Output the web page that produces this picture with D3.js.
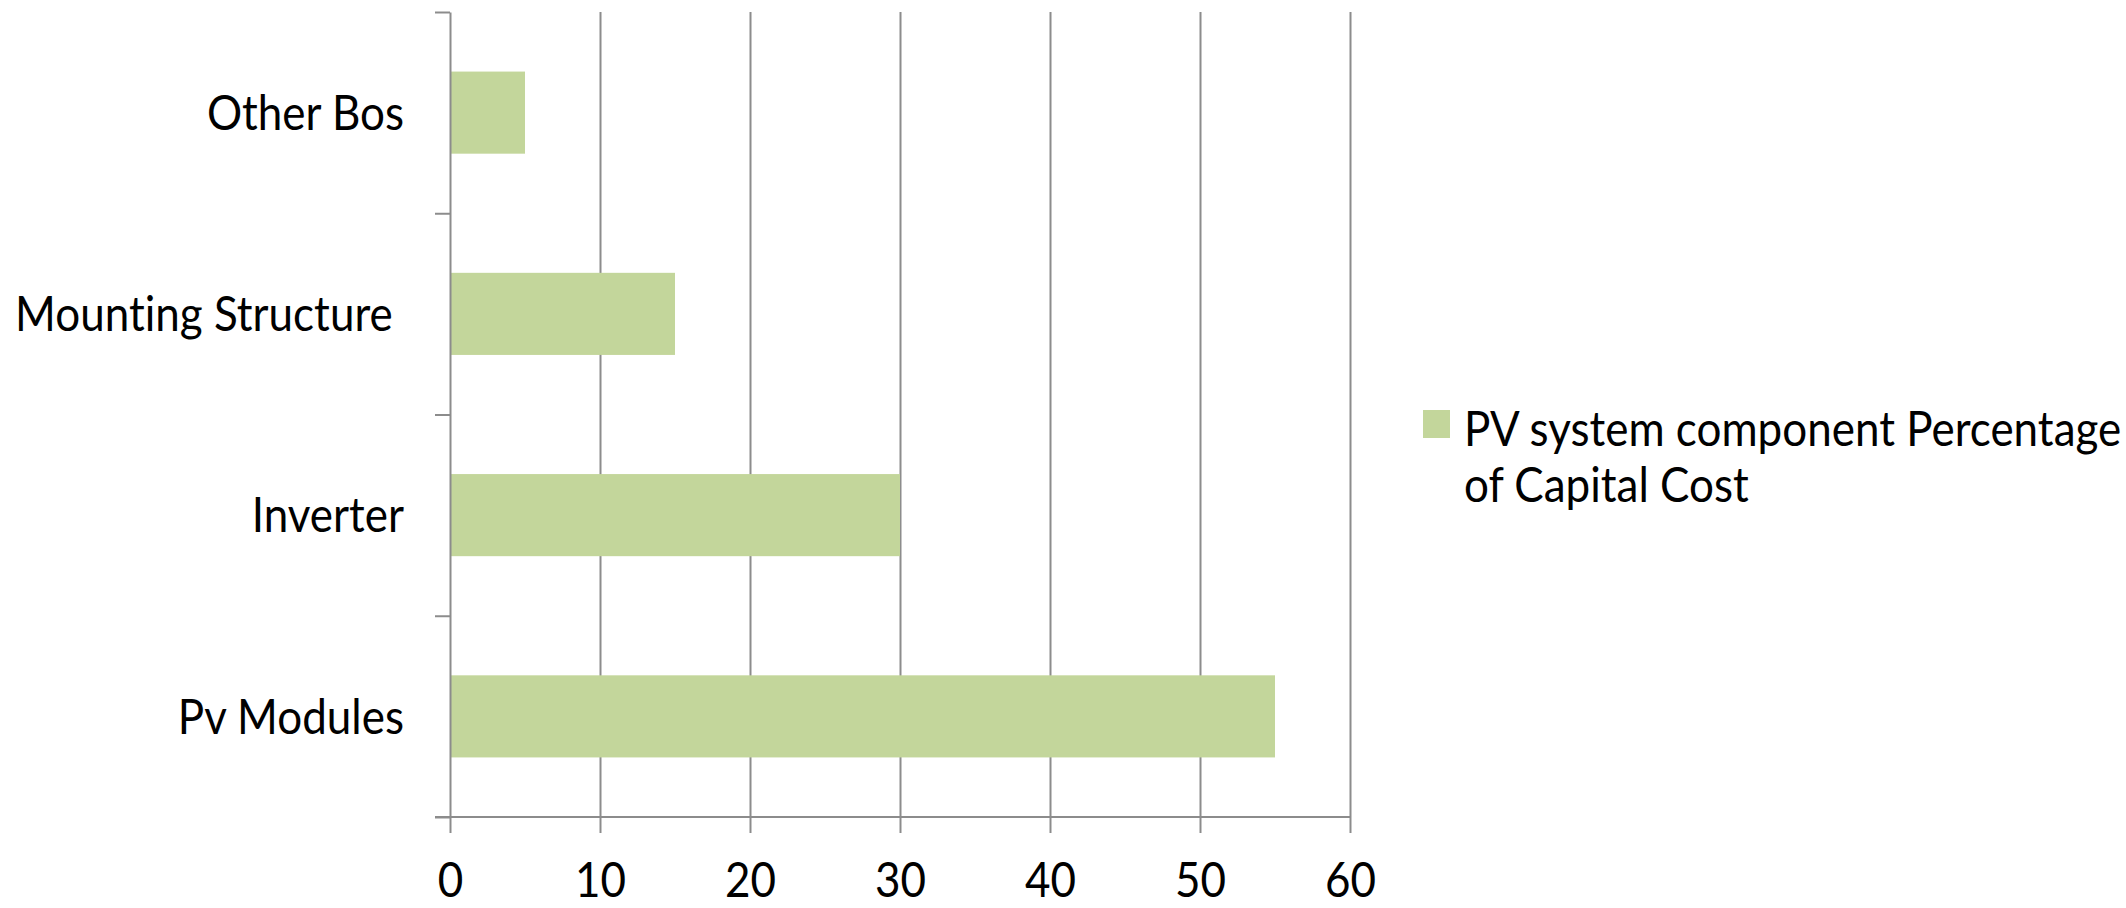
<!DOCTYPE html>
<html>
<head>
<meta charset="utf-8">
<script src="https://cdn.jsdelivr.net/npm/d3@7"></script>
<style>
  html, body { margin: 0; padding: 0; background: #fff; }
  svg { display: block; }
  text { font-family: Lato, "Open Sans", sans-serif; fill: #000; font-variant-ligatures: none; }
</style>
</head>
<body>
<svg id="chart" width="2126" height="908"></svg>
<script>
// PV system capital cost breakdown (percent), bottom to top
const categories = ["Pv Modules", "Inverter", "Mounting Structure ", "Other Bos"];
const values = [55, 30, 15, 5];
const xTicks = [0, 10, 20, 30, 40, 50, 60];
const seriesName = ["PV system component Percentage", "of Capital Cost"];

const W = 2126, H = 908;
const plot = { left: 450, right: 1350, top: 12, bottom: 817 };
const fontSize = 44;
const stretch = 1.12;      // glyphs are drawn slightly taller than wide
const barColor = "#c3d69b";
const gridColor = "#8c8c8c";

const svg = d3.select("#chart");

const x = d3.scaleLinear().domain([0, 60]).range([plot.left, plot.right]);

// categories run bottom to top, so the domain is reversed against the range
const y = d3.scaleBand()
  .domain(categories.slice().reverse())
  .range([plot.top, plot.bottom])
  .paddingInner(0.592)
  .paddingOuter(0.296);

// category boundaries for the tick marks on the value axis side
const yEdge = d3.scaleLinear().domain([0, categories.length]).range([plot.bottom, plot.top]);

// vertical gridlines
const grid = svg.append("g")
  .attr("transform", `translate(0,${plot.bottom})`)
  .call(d3.axisBottom(x).tickValues(xTicks.slice(1)).tickSize(-(plot.bottom - plot.top)).tickFormat(""));
grid.select(".domain").remove();
grid.selectAll("line").attr("stroke", gridColor).attr("stroke-width", 2);

// bars
svg.append("g").selectAll("rect")
  .data(categories.map((c, i) => ({ c, v: values[i] })))
  .join("rect")
  .attr("x", x(0))
  .attr("y", d => y(d.c))
  .attr("width", d => x(d.v) - x(0))
  .attr("height", y.bandwidth())
  .attr("fill", barColor);

// value axis along the bottom
const xAxis = svg.append("g")
  .attr("transform", `translate(0,${plot.bottom})`)
  .call(d3.axisBottom(x).tickValues(xTicks).tickSize(16).tickSizeOuter(0));
xAxis.select(".domain").attr("stroke", gridColor).attr("stroke-width", 2)
  .attr("d", `M${plot.left - 15},0H${plot.right}`);
xAxis.selectAll(".tick line").attr("stroke", gridColor).attr("stroke-width", 2);
xAxis.selectAll(".tick text")
  .attr("y", null).attr("dy", null)
  .attr("transform", `translate(0,80) scale(1,${stretch})`)
  .style("font-size", fontSize + "px")
  .style("font-family", "Lato, sans-serif");

// category axis on the left
const yAxis = svg.append("g")
  .attr("transform", `translate(${plot.left},0)`)
  .call(d3.axisLeft(yEdge).ticks(categories.length).tickSize(15).tickSizeOuter(0).tickFormat(""));
yAxis.select(".domain").attr("stroke", gridColor).attr("stroke-width", 2);
yAxis.selectAll(".tick line").attr("stroke", gridColor).attr("stroke-width", 2);

// category labels
svg.append("g").selectAll("text")
  .data(categories)
  .join("text")
  .attr("transform", d => `translate(404,${y(d) + y.bandwidth() / 2}) scale(1,${stretch})`)
  .attr("text-anchor", "end")
  .attr("dy", "0.35em")
  .style("white-space", "pre")
  .style("font-size", fontSize + "px")
  .text(d => d);

// legend
const legend = svg.append("g");
legend.append("rect")
  .attr("x", 1423).attr("y", 410).attr("width", 27).attr("height", 28)
  .attr("fill", barColor);
legend.selectAll("text")
  .data(seriesName)
  .join("text")
  .attr("transform", (d, i) => `translate(1464,${446 + i * 56}) scale(1,${stretch})`)
  .style("font-size", fontSize + "px")
  .text(d => d);
</script>
</body>
</html>
